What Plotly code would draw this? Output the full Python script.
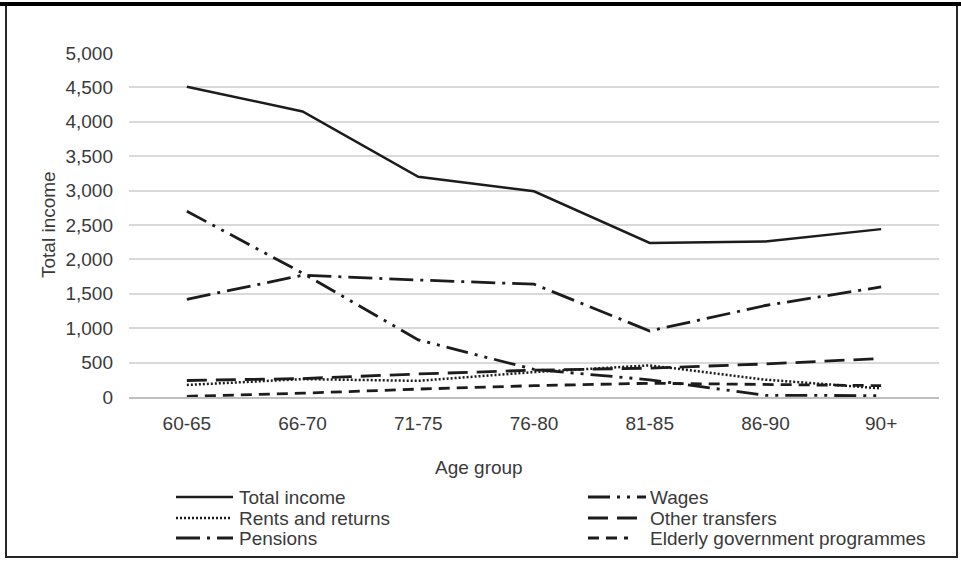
import plotly.graph_objects as go

# Income composition by age group
age_groups = ["60-65", "66-70", "71-75", "76-80", "81-85", "86-90", "90+"]
total_income = [4510, 4150, 3200, 2990, 2240, 2260, 2440]
wages = [2700, 1800, 830, 400, 250, 25, 20]
rents_and_returns = [175, 260, 235, 362, 460, 252, 125]
other_transfers = [240, 268, 335, 390, 420, 480, 560]
pensions = [1420, 1770, 1700, 1640, 960, 1330, 1600]
elderly_programmes = [10, 55, 115, 165, 200, 185, 165]

y_ticks = [0, 500, 1000, 1500, 2000, 2500, 3000, 3500, 4000, 4500, 5000]

FONT = "Liberation Sans, Arial, Helvetica, sans-serif"
TEXT = "#3a3a3a"
INK = "#1c1c1c"

# figure geometry (pixels)
FIG_W, FIG_H = 961, 561
L, R, T, B = 129, 939, 53, 397
PW, PH = R - L, B - T


def px_x(px):
    return (px - L) / PW


def px_y(py):
    return (B - py) / PH


series = [
    ("Total income", total_income, "solid", 2.5),
    ("Wages", wages, "22px,7px,3px,7px,3px,7px", 2.8),
    ("Rents and returns", rents_and_returns, "2px,2px", 2.5),
    ("Other transfers", other_transfers, "20px,9px", 2.8),
    ("Pensions", pensions, "24px,7px,3px,7px", 2.8),
    ("Elderly government programmes", elderly_programmes, "11px,7px", 2.8),
]

fig = go.Figure()
for name, values, dash, width in series:
    fig.add_trace(go.Scatter(
        x=age_groups, y=values, name=name, mode="lines",
        line=dict(color=INK, width=width, dash=dash),
        showlegend=False,
    ))

shapes = []
annotations = []

# legend: two columns, three rows
legend_rows = [497, 518, 538]
legend_layout = [
    ("Total income", 0, 0, 57),
    ("Rents and returns", 0, 1, 54),
    ("Pensions", 0, 2, 57),
    ("Wages", 1, 0, 58),
    ("Other transfers", 1, 1, 52),
    ("Elderly government programmes", 1, 2, 40),
]
col_sym_x = [176, 588]
col_text_x = [237, 648]
style = {name: (dash, width) for name, _, dash, width in series}
for name, col, row, length in legend_layout:
    dash, width = style[name]
    y = px_y(legend_rows[row])
    x0 = col_sym_x[col]
    shapes.append(dict(
        type="line", xref="paper", yref="paper",
        x0=px_x(x0), x1=px_x(x0 + length), y0=y, y1=y,
        line=dict(color=INK, width=width, dash=dash),
    ))
    annotations.append(dict(
        text=name, xref="paper", yref="paper",
        x=px_x(col_text_x[col]), y=y, xanchor="left", yanchor="middle",
        showarrow=False, font=dict(family=FONT, size=19, color=TEXT),
    ))

# axis titles
annotations.append(dict(
    text="Age group", xref="paper", yref="paper",
    x=px_x(479), y=px_y(467), xanchor="center", yanchor="middle",
    showarrow=False, font=dict(family=FONT, size=19, color=TEXT),
))
annotations.append(dict(
    text="Total income", xref="paper", yref="paper",
    x=px_x(48), y=px_y(225), xanchor="center", yanchor="middle",
    textangle=-90, showarrow=False, font=dict(family=FONT, size=19, color=TEXT),
))

# outer frame
shapes.append(dict(
    type="rect", xref="paper", yref="paper",
    x0=px_x(6), x1=px_x(957), y0=px_y(557), y1=px_y(5),
    line=dict(color="#262626", width=2), fillcolor="rgba(0,0,0,0)",
))
shapes.append(dict(
    type="line", xref="paper", yref="paper",
    x0=px_x(0), x1=px_x(961), y0=px_y(4), y1=px_y(4),
    line=dict(color="#000000", width=4),
))

fig.update_layout(
    width=FIG_W, height=FIG_H,
    margin=dict(l=L, r=FIG_W - R, t=T, b=FIG_H - B, pad=0),
    paper_bgcolor="white", plot_bgcolor="white",
    font=dict(family=FONT, size=19, color=TEXT),
    shapes=shapes, annotations=annotations,
    xaxis=dict(
        type="category", showgrid=False, zeroline=False,
        showline=True, linecolor="#bfbfbf", linewidth=1.5,
        ticks="", ticklabelstandoff=8,
        tickfont=dict(family=FONT, size=19, color=TEXT),
        range=[-0.5, len(age_groups) - 0.5],
    ),
    yaxis=dict(
        range=[0, 5000], tickvals=y_ticks, tickformat=",d",
        showgrid=True, gridcolor="#d9d9d9", gridwidth=1.5,
        zeroline=False, showline=False, ticks="",
        ticklabelstandoff=15,
        tickfont=dict(family=FONT, size=19, color=TEXT),
    ),
    showlegend=False,
)

fig.write_html("out.html")
